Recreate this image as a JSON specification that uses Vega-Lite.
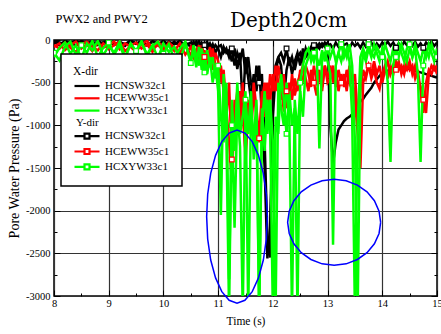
{
  "$schema": "https://vega.github.io/schema/vega-lite/v6.json",
  "width": 383,
  "height": 256,
  "autosize": {"type": "none"},
  "padding": {"left": 54, "top": 40, "right": 4, "bottom": 38},
  "background": "white",
  "config": {
    "view": {"stroke": "black", "strokeWidth": 1.5},
    "font": "Liberation Serif",
    "axis": {
      "labelFont": "Liberation Serif",
      "titleFont": "Liberation Serif",
      "labelColor": "black",
      "titleColor": "black",
      "titleFontWeight": "normal",
      "labelFontSize": 10.5,
      "titleFontSize": 11.5,
      "tickColor": "black",
      "tickWidth": 1,
      "domain": false,
      "gridColor": "#333333",
      "gridWidth": 1.2,
      "labelFlush": false,
      "labelOverlap": false
    }
  },
  "title": {
    "text": "Depth20cm",
    "font": "DejaVu Serif",
    "fontSize": 20,
    "fontWeight": "normal",
    "color": "black",
    "anchor": "middle",
    "frame": "group",
    "dx": 43,
    "offset": 0,
    "baseline": "alphabetic",
    "dy": 35
  },
  "datasets": {
    "pw": [
      {"t":8.0,"XN":-20,"XE":-80,"XG":-200,"YN":-10,"YE":-60,"YG":-150},
      {"t":8.1,"XN":-60,"XE":-40,"XG":-90,"YN":-30,"YE":-100,"YG":-240},
      {"t":8.2,"XN":-10,"XE":-120,"XG":-30,"YN":-50,"YE":-30,"YG":-80},
      {"t":8.3,"XN":-40,"XE":-60,"XG":-160,"YN":-20,"YE":-90,"YG":-20},
      {"t":8.4,"XN":-5,"XE":-20,"XG":-60,"YN":-70,"YE":-140,"YG":-180},
      {"t":8.5,"XN":-50,"XE":-100,"XG":-220,"YN":-10,"YE":-50,"YG":-60},
      {"t":8.6,"XN":-20,"XE":-50,"XG":-40,"YN":-40,"YE":-20,"YG":-150},
      {"t":8.7,"XN":-70,"XE":-130,"XG":-120,"YN":-15,"YE":-80,"YG":-10},
      {"t":8.8,"XN":-10,"XE":-30,"XG":-10,"YN":-60,"YE":-120,"YG":-200},
      {"t":8.9,"XN":-45,"XE":-90,"XG":-180,"YN":-25,"YE":-40,"YG":-90},
      {"t":9.0,"XN":-15,"XE":-60,"XG":-70,"YN":-5,"YE":-110,"YG":-30},
      {"t":9.1,"XN":-60,"XE":-20,"XG":-150,"YN":-50,"YE":-60,"YG":-170},
      {"t":9.2,"XN":-25,"XE":-110,"XG":-20,"YN":-20,"YE":-20,"YG":-60},
      {"t":9.3,"XN":-50,"XE":-40,"XG":-200,"YN":-70,"YE":-130,"YG":-220},
      {"t":9.4,"XN":-5,"XE":-80,"XG":-50,"YN":-10,"YE":-70,"YG":-40},
      {"t":9.5,"XN":-40,"XE":-140,"XG":-130,"YN":-45,"YE":-30,"YG":-130},
      {"t":9.6,"XN":-15,"XE":-50,"XG":-30,"YN":-20,"YE":-100,"YG":-10},
      {"t":9.7,"XN":-65,"XE":-10,"XG":-170,"YN":-60,"YE":-50,"YG":-190},
      {"t":9.8,"XN":-20,"XE":-100,"XG":-60,"YN":-15,"YE":-140,"YG":-70},
      {"t":9.9,"XN":-50,"XE":-60,"XG":-210,"YN":-40,"YE":-20,"YG":-20},
      {"t":10.0,"XN":-10,"XE":-120,"XG":-40,"YN":-70,"YE":-90,"YG":-160},
      {"t":10.1,"XN":-55,"XE":-30,"XG":-140,"YN":-20,"YE":-60,"YG":-50},
      {"t":10.2,"XN":-20,"XE":-90,"XG":-80,"YN":-50,"YE":-130,"YG":-230},
      {"t":10.3,"XN":-70,"XE":-150,"XG":-230,"YN":-10,"YE":-40,"YG":-100},
      {"t":10.4,"XN":-30,"XE":-60,"XG":-50,"YN":-60,"YE":-170,"YG":-20},
      {"t":10.5,"XN":-80,"XE":-180,"XG":-250,"YN":-30,"YE":-80,"YG":-270},
      {"t":10.55,"XN":-20,"XE":-100,"XG":-120,"YN":-70,"YE":-200,"YG":-60},
      {"t":10.6,"XN":-60,"XE":-220,"XG":-320,"YN":-20,"YE":-120,"YG":-180},
      {"t":10.65,"XN":-10,"XE":-60,"XG":-80,"YN":-90,"YE":-260,"YG":-300},
      {"t":10.7,"XN":-90,"XE":-250,"XG":-350,"YN":-30,"YE":-60,"YG":-100},
      {"t":10.75,"XN":-30,"XE":-120,"XG":-150,"YN":-60,"YE":-200,"YG":-380},
      {"t":10.8,"XN":-100,"XE":-300,"XG":-400,"YN":-20,"YE":-150,"YG":-120},
      {"t":10.85,"XN":-40,"XE":-80,"XG":-200,"YN":-110,"YE":-280,"YG":-320},
      {"t":10.9,"XN":-120,"XE":-350,"XG":-500,"YN":-50,"YE":-100,"YG":-200},
      {"t":10.95,"XN":-60,"XE":-150,"XG":-300,"YN":-150,"YE":-300,"YG":-450},
      {"t":11.0,"XN":-100,"XE":-250,"XG":-600,"YN":-80,"YE":-400,"YG":-300},
      {"t":11.05,"XN":-200,"XE":-500,"XG":-2050,"YN":-60,"YE":-300,"YG":-900},
      {"t":11.1,"XN":-80,"XE":-350,"XG":-400,"YN":-150,"YE":-600,"YG":-1200},
      {"t":11.15,"XN":-150,"XE":-800,"XG":-1100,"YN":-100,"YE":-900,"YG":-500},
      {"t":11.2,"XN":-120,"XE":-1200,"XG":-3200,"YN":-200,"YE":-500,"YG":-2800},
      {"t":11.25,"XN":-250,"XE":-1650,"XG":-700,"YN":-100,"YE":-1400,"YG":-1000},
      {"t":11.3,"XN":-100,"XE":-900,"XG":-1300,"YN":-300,"YE":-700,"YG":-2200},
      {"t":11.35,"XN":-340,"XE":-600,"XG":-500,"YN":-150,"YE":-1100,"YG":-800},
      {"t":11.4,"XN":-150,"XE":-1000,"XG":-1100,"YN":-250,"YE":-600,"YG":-1250},
      {"t":11.45,"XN":-800,"XE":-500,"XG":-900,"YN":-100,"YE":-900,"YG":-3200},
      {"t":11.5,"XN":-200,"XE":-1450,"XG":-600,"YN":-400,"YE":-1300,"YG":-700},
      {"t":11.55,"XN":-450,"XE":-800,"XG":-3200,"YN":-200,"YE":-700,"YG":-1100},
      {"t":11.6,"XN":-700,"XE":-1100,"XG":-800,"YN":-500,"YE":-1000,"YG":-600},
      {"t":11.65,"XN":-400,"XE":-600,"XG":-1200,"YN":-700,"YE":-500,"YG":-1400},
      {"t":11.7,"XN":-600,"XE":-900,"XG":-700,"YN":-300,"YE":-800,"YG":-900},
      {"t":11.75,"XN":-300,"XE":-1200,"XG":-3200,"YN":-500,"YE":-1150,"YG":-3200},
      {"t":11.8,"XN":-900,"XE":-700,"XG":-1000,"YN":-400,"YE":-600,"YG":-800},
      {"t":11.85,"XN":-1500,"XE":-500,"XG":-600,"YN":-1200,"YE":-900,"YG":-1300},
      {"t":11.9,"XN":-2560,"XE":-800,"XG":-1100,"YN":-2300,"YE":-500,"YG":-700},
      {"t":11.95,"XN":-2200,"XE":-400,"XG":-700,"YN":-2550,"YE":-700,"YG":-1000},
      {"t":12.0,"XN":-900,"XE":-600,"XG":-1200,"YN":-600,"YE":-400,"YG":-3200},
      {"t":12.05,"XN":-400,"XE":-300,"XG":-3200,"YN":-300,"YE":-600,"YG":-900},
      {"t":12.1,"XN":-200,"XE":-500,"XG":-500,"YN":-200,"YE":-300,"YG":-1100},
      {"t":12.15,"XN":-300,"XE":-700,"XG":-800,"YN":-150,"YE":-500,"YG":-400},
      {"t":12.2,"XN":-720,"XE":-400,"XG":-1000,"YN":-250,"YE":-840,"YG":-700},
      {"t":12.25,"XN":-350,"XE":-800,"XG":-500,"YN":-100,"YE":-600,"YG":-1100},
      {"t":12.3,"XN":-200,"XE":-500,"XG":-900,"YN":-300,"YE":-750,"YG":-600},
      {"t":12.35,"XN":-400,"XE":-700,"XG":-3200,"YN":-200,"YE":-400,"YG":-1000},
      {"t":12.4,"XN":-250,"XE":-450,"XG":-700,"YN":-350,"YE":-650,"YG":-800},
      {"t":12.45,"XN":-150,"XE":-600,"XG":-1100,"YN":-200,"YE":-500,"YG":-3200},
      {"t":12.5,"XN":-300,"XE":-350,"XG":-600,"YN":-150,"YE":-400,"YG":-500},
      {"t":12.55,"XN":-100,"XE":-500,"XG":-900,"YN":-250,"YE":-300,"YG":-300},
      {"t":12.6,"XN":-200,"XE":-300,"XG":-300,"YN":-100,"YE":-450,"YG":-150},
      {"t":12.65,"XN":-150,"XE":-400,"XG":-200,"YN":-200,"YE":-600,"YG":-100},
      {"t":12.7,"XN":-80,"XE":-550,"XG":-150,"YN":-120,"YE":-350,"YG":-250},
      {"t":12.75,"XN":-120,"XE":-300,"XG":-250,"YN":-60,"YE":-500,"YG":-150},
      {"t":12.8,"XN":-50,"XE":-500,"XG":-100,"YN":-100,"YE":-650,"YG":-200},
      {"t":12.85,"XN":-100,"XE":-350,"XG":-1270,"YN":-40,"YE":-400,"YG":-300},
      {"t":12.9,"XN":-40,"XE":-600,"XG":-200,"YN":-80,"YE":-550,"YG":-120},
      {"t":12.95,"XN":-80,"XE":-300,"XG":-150,"YN":-30,"YE":-300,"YG":-250},
      {"t":13.0,"XN":-30,"XE":-450,"XG":-250,"YN":-60,"YE":-500,"YG":-100},
      {"t":13.05,"XN":-1000,"XE":-300,"XG":-400,"YN":-50,"YE":-450,"YG":-200},
      {"t":13.1,"XN":-1450,"XE":-500,"XG":-2400,"YN":-100,"YE":-300,"YG":-100},
      {"t":13.15,"XN":-1200,"XE":-350,"XG":-300,"YN":-30,"YE":-550,"YG":-250},
      {"t":13.2,"XN":-1050,"XE":-600,"XG":-150,"YN":-80,"YE":-350,"YG":-150},
      {"t":13.25,"XN":-1000,"XE":-400,"XG":-250,"YN":-20,"YE":-500,"YG":-50},
      {"t":13.3,"XN":-950,"XE":-550,"XG":-100,"YN":-60,"YE":-400,"YG":-200},
      {"t":13.35,"XN":-920,"XE":-350,"XG":-200,"YN":-40,"YE":-600,"YG":-100},
      {"t":13.4,"XN":-900,"XE":-500,"XG":-50,"YN":-100,"YE":-300,"YG":-250},
      {"t":13.45,"XN":-870,"XE":-400,"XG":-300,"YN":-30,"YE":-500,"YG":-900},
      {"t":13.5,"XN":-850,"XE":-700,"XG":-1200,"YN":-70,"YE":-400,"YG":-3200},
      {"t":13.55,"XN":-800,"XE":-1100,"XG":-3200,"YN":-40,"YE":-900,"YG":-1000},
      {"t":13.6,"XN":-720,"XE":-1500,"XG":-500,"YN":-90,"YE":-600,"YG":-200},
      {"t":13.65,"XN":-690,"XE":-500,"XG":-150,"YN":-30,"YE":-350,"YG":-100},
      {"t":13.7,"XN":-640,"XE":-400,"XG":-250,"YN":-80,"YE":-450,"YG":-200},
      {"t":13.75,"XN":-600,"XE":-300,"XG":-100,"YN":-20,"YE":-300,"YG":-50},
      {"t":13.8,"XN":-560,"XE":-450,"XG":-200,"YN":-30,"YE":-400,"YG":-150},
      {"t":13.85,"XN":-500,"XE":-350,"XG":-50,"YN":-100,"YE":-250,"YG":-200},
      {"t":13.9,"XN":-460,"XE":-500,"XG":-150,"YN":-40,"YE":-400,"YG":-80},
      {"t":13.95,"XN":-420,"XE":-575,"XG":-250,"YN":-80,"YE":-300,"YG":-150},
      {"t":14.0,"XN":-390,"XE":-400,"XG":-100,"YN":-30,"YE":-500,"YG":-200},
      {"t":14.05,"XN":-370,"XE":-300,"XG":-200,"YN":-60,"YE":-350,"YG":-50},
      {"t":14.1,"XN":-360,"XE":-450,"XG":-500,"YN":-20,"YE":-250,"YG":-150},
      {"t":14.15,"XN":-350,"XE":-300,"XG":-1430,"YN":-70,"YE":-400,"YG":-250},
      {"t":14.2,"XN":-340,"XE":-400,"XG":-300,"YN":-30,"YE":-300,"YG":-100},
      {"t":14.25,"XN":-335,"XE":-250,"XG":-100,"YN":-90,"YE":-350,"YG":-200},
      {"t":14.3,"XN":-330,"XE":-350,"XG":-200,"YN":-40,"YE":-250,"YG":-50},
      {"t":14.35,"XN":-330,"XE":-300,"XG":-50,"YN":-80,"YE":-400,"YG":-150},
      {"t":14.4,"XN":-330,"XE":-400,"XG":-150,"YN":-20,"YE":-300,"YG":-250},
      {"t":14.45,"XN":-335,"XE":-250,"XG":-250,"YN":-60,"YE":-350,"YG":-100},
      {"t":14.5,"XN":-340,"XE":-350,"XG":-100,"YN":-30,"YE":-250,"YG":-50},
      {"t":14.55,"XN":-350,"XE":-300,"XG":-200,"YN":-70,"YE":-400,"YG":-200},
      {"t":14.6,"XN":-360,"XE":-450,"XG":-50,"YN":-20,"YE":-300,"YG":-100},
      {"t":14.65,"XN":-370,"XE":-350,"XG":-150,"YN":-80,"YE":-450,"YG":-400},
      {"t":14.7,"XN":-380,"XE":-600,"XG":-250,"YN":-40,"YE":-550,"YG":-1430},
      {"t":14.75,"XN":-390,"XE":-855,"XG":-100,"YN":-90,"YE":-700,"YG":-300},
      {"t":14.8,"XN":-400,"XE":-500,"XG":-200,"YN":-30,"YE":-855,"YG":-100},
      {"t":14.85,"XN":-410,"XE":-350,"XG":-50,"YN":-60,"YE":-400,"YG":-200},
      {"t":14.9,"XN":-420,"XE":-400,"XG":-150,"YN":-20,"YE":-300,"YG":-50},
      {"t":14.95,"XN":-430,"XE":-300,"XG":-250,"YN":-70,"YE":-350,"YG":-150},
      {"t":15.0,"XN":-440,"XE":-400,"XG":-100,"YN":-30,"YE":-300,"YG":-200}
    ],
    "ell": [
      {"e":1,"i":0,"t":11.9,"v":-2070},
      {"e":1,"i":1,"t":11.881,"v":-1807},
      {"e":1,"i":2,"t":11.826,"v":-1562},
      {"e":1,"i":3,"t":11.737,"v":-1352},
      {"e":1,"i":4,"t":11.623,"v":-1191},
      {"e":1,"i":5,"t":11.489,"v":-1090},
      {"e":1,"i":6,"t":11.345,"v":-1055},
      {"e":1,"i":7,"t":11.201,"v":-1090},
      {"e":1,"i":8,"t":11.067,"v":-1191},
      {"e":1,"i":9,"t":10.953,"v":-1352},
      {"e":1,"i":10,"t":10.864,"v":-1562},
      {"e":1,"i":11,"t":10.809,"v":-1807},
      {"e":1,"i":12,"t":10.79,"v":-2070},
      {"e":1,"i":13,"t":10.809,"v":-2333},
      {"e":1,"i":14,"t":10.864,"v":-2578},
      {"e":1,"i":15,"t":10.953,"v":-2788},
      {"e":1,"i":16,"t":11.067,"v":-2949},
      {"e":1,"i":17,"t":11.201,"v":-3050},
      {"e":1,"i":18,"t":11.345,"v":-3085},
      {"e":1,"i":19,"t":11.489,"v":-3050},
      {"e":1,"i":20,"t":11.623,"v":-2949},
      {"e":1,"i":21,"t":11.737,"v":-2788},
      {"e":1,"i":22,"t":11.826,"v":-2578},
      {"e":1,"i":23,"t":11.881,"v":-2333},
      {"e":1,"i":24,"t":11.9,"v":-2070},
      {"e":2,"i":0,"t":13.97,"v":-2136},
      {"e":2,"i":1,"t":13.941,"v":-2005},
      {"e":2,"i":2,"t":13.856,"v":-1884},
      {"e":2,"i":3,"t":13.721,"v":-1780},
      {"e":2,"i":4,"t":13.545,"v":-1700},
      {"e":2,"i":5,"t":13.34,"v":-1649},
      {"e":2,"i":6,"t":13.12,"v":-1632},
      {"e":2,"i":7,"t":12.9,"v":-1649},
      {"e":2,"i":8,"t":12.695,"v":-1700},
      {"e":2,"i":9,"t":12.519,"v":-1780},
      {"e":2,"i":10,"t":12.384,"v":-1884},
      {"e":2,"i":11,"t":12.299,"v":-2005},
      {"e":2,"i":12,"t":12.27,"v":-2136},
      {"e":2,"i":13,"t":12.299,"v":-2267},
      {"e":2,"i":14,"t":12.384,"v":-2388},
      {"e":2,"i":15,"t":12.519,"v":-2492},
      {"e":2,"i":16,"t":12.695,"v":-2572},
      {"e":2,"i":17,"t":12.9,"v":-2623},
      {"e":2,"i":18,"t":13.12,"v":-2640},
      {"e":2,"i":19,"t":13.34,"v":-2623},
      {"e":2,"i":20,"t":13.545,"v":-2572},
      {"e":2,"i":21,"t":13.721,"v":-2492},
      {"e":2,"i":22,"t":13.856,"v":-2388},
      {"e":2,"i":23,"t":13.941,"v":-2267},
      {"e":2,"i":24,"t":13.97,"v":-2136}
    ]
  },
  "layer": [
    {
      "data": {"name": "pw"},
      "transform": [
        {"fold": ["XN", "YN", "XE", "YE", "XG", "YG"], "as": ["k", "v"]},
        {"filter": "isValid(datum.v)"}
      ],
      "mark": {"type": "line", "strokeWidth": 2.5, "clip": true},
      "encoding": {
        "x": {
          "field": "t", "type": "quantitative",
          "scale": {"domain": [8, 15], "nice": false, "zero": false},
          "axis": {
            "orient": "bottom",
            "title": "Time (s)",
            "values": [8, 8.5, 9, 9.5, 10, 10.5, 11, 11.5, 12, 12.5, 13, 13.5, 14, 14.5, 15],
            "labelExpr": "datum.value % 1 == 0 ? '' + datum.value : ''",
            "grid": true,
            "gridColor": {"condition": {"test": "datum.value % 1 != 0", "value": "transparent"}, "value": "#333333"},
            "tickSize": {"condition": {"test": "datum.value % 1 == 0", "value": -6}, "value": -3},
            "labelPadding": 8,
            "titlePadding": 4
          }
        },
        "y": {
          "field": "v", "type": "quantitative",
          "scale": {"domain": [-3000, 0], "nice": false, "zero": false},
          "axis": {
            "orient": "left",
            "title": "Pore Water Pressure (Pa)",
            "titleFontSize": 14,
            "values": [-3000, -2750, -2500, -2250, -2000, -1750, -1500, -1250, -1000, -750, -500, -250, 0],
            "labelExpr": "datum.value % 500 == 0 ? '' + datum.value : ''",
            "grid": true,
            "gridColor": {"condition": {"test": "datum.value % 500 != 0", "value": "transparent"}, "value": "#333333"},
            "tickSize": {"condition": {"test": "datum.value % 500 == 0", "value": -6}, "value": -3},
            "labelPadding": 10,
            "titlePadding": 4
          }
        },
        "color": {
          "field": "k", "type": "nominal",
          "scale": {
            "domain": ["XN", "XE", "XG", "Ydir", "YN", "YE", "YG"],
            "range": ["#000000", "#ff0000", "#00ff00", "#ffffff", "#000000", "#ff0000", "#00ff00"]
          },
          "legend": {
            "orient": "none",
            "legendX": 7,
            "legendY": 14,
            "direction": "vertical",
            "title": "X-dir",
            "titleFont": "Liberation Serif",
            "titleFontSize": 11.5,
            "titleFontWeight": "normal",
            "titleColor": "black",
            "titlePadding": 2,
            "labelFont": "Liberation Serif",
            "labelFontSize": 11,
            "labelColor": "black",
            "labelOffset": 19,
            "labelExpr": "datum.value == 'Ydir' ? 'Y-dir' : (indexof(datum.value, 'N') > 0 ? 'HCNSW32c1' : (indexof(datum.value, 'E') > 0 ? 'HCEWW35c1' : 'HCXYW33c1'))",
            "symbolType": "M-1,0H4",
            "symbolSize": 100,
            "symbolStrokeWidth": 2.5,
            "rowPadding": 0.3,
            "padding": 12,
            "fillColor": "white",
            "strokeColor": "black",
            "encode": {
              "legend": {"update": {"strokeWidth": {"value": 1.5}}},
              "symbols": {
                "update": {
                  "shape": {"signal": "datum.value == 'Ydir' ? 'M0,0' : (indexof(datum.value, 'Y') == 0 ? 'M-1,0H1M2,0H4M1,-0.5H2V0.5H1Z' : 'M-1,0H4')"},
                  "fill": {"value": "white"},
                  "strokeWidth": {"value": 2.2}
                }
              },
              "labels": {
                "update": {
                  "dx": {"signal": "datum.value == 'Ydir' ? -29 : 0"}
                }
              }
            }
          }
        }
      }
    },
    {
      "data": {"name": "pw"},
      "transform": [
        {"fold": ["YN", "YE", "YG"], "as": ["k", "v"]},
        {"filter": "isValid(datum.v)"},
        {"filter": "(datum.k == 'YG' && round(datum.t * 100) % 25 == 0) || (datum.k != 'YG' && round(datum.t * 100) % 50 == 25)"}
      ],
      "mark": {"type": "point", "shape": "square", "size": 22, "filled": false, "fill": "white", "strokeWidth": 1.2, "opacity": 1, "clip": true},
      "encoding": {
        "x": {
          "field": "t", "type": "quantitative",
          "scale": {"domain": [8, 15], "nice": false, "zero": false},
          "axis": {
            "orient": "top",
            "values": [8, 8.5, 9, 9.5, 10, 10.5, 11, 11.5, 12, 12.5, 13, 13.5, 14, 14.5, 15],
            "labels": false,
            "grid": false,
            "tickSize": {"condition": {"test": "datum.value % 1 == 0", "value": -6}, "value": -3},
            "title": "PWX2 and PWY2",
            "titleFontSize": 12.5,
            "titleAnchor": "start",
            "titleAlign": "left",
            "titleBaseline": "alphabetic",
            "titleX": 1,
            "titleY": -18
          }
        },
        "y": {
          "field": "v", "type": "quantitative",
          "scale": {"domain": [-3000, 0], "nice": false, "zero": false},
          "axis": {
            "orient": "right",
            "values": [-3000, -2750, -2500, -2250, -2000, -1750, -1500, -1250, -1000, -750, -500, -250, 0],
            "labels": false,
            "grid": false,
            "tickSize": {"condition": {"test": "datum.value % 500 == 0", "value": -6}, "value": -3},
            "title": null
          }
        },
        "color": {"field": "k", "type": "nominal"}
      }
    },
    {
      "data": {"name": "ell"},
      "mark": {"type": "line", "color": "#0000ff", "strokeWidth": 1.5, "clip": false},
      "encoding": {
        "x": {"field": "t", "type": "quantitative", "axis": null},
        "y": {"field": "v", "type": "quantitative", "axis": null},
        "detail": {"field": "e"},
        "order": {"field": "i"}
      }
    }
  ],
  "resolve": {"axis": {"x": "independent", "y": "independent"}}
}
